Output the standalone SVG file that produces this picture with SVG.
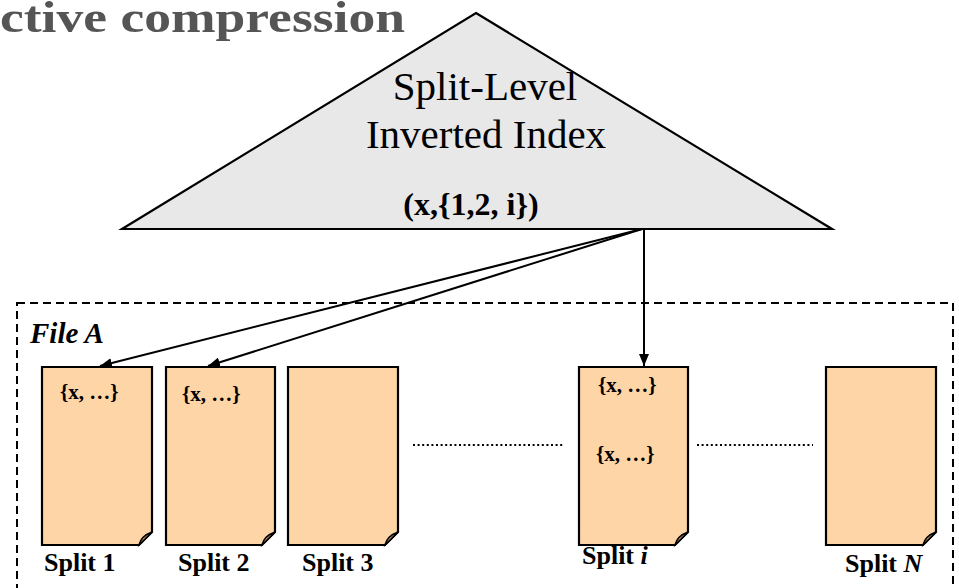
<svg xmlns="http://www.w3.org/2000/svg" width="959" height="588" viewBox="0 0 959 588">
<style>
.doc{fill:#fdd5a6;stroke:#000;stroke-width:2.2;stroke-linejoin:miter}
.fold{fill:#d6a574;stroke:#000;stroke-width:1.5}
.lbl{font-family:"Liberation Serif","Times New Roman",serif;font-weight:bold;font-size:26px;fill:#000}
.cnt{font-family:"Liberation Serif","Times New Roman",serif;font-weight:bold;font-size:21px;fill:#000}
.tri{font-family:"Liberation Serif","Times New Roman",serif;font-size:41px;fill:#000;text-anchor:middle}
.conn{stroke:#000;stroke-width:2;fill:none}
.dots{stroke:#000;stroke-width:2.2;stroke-dasharray:2 2.6;fill:none}
</style>
<defs>
<marker id="ah" viewBox="0 0 12 10" refX="12" refY="5" markerWidth="12" markerHeight="10" markerUnits="userSpaceOnUse" orient="auto">
<path d="M0,0 L12,5 L0,10 Z" fill="#000"/>
</marker>
</defs>
<rect width="959" height="588" fill="#fff"/>
<text x="0" y="32" font-family="'Liberation Serif','Times New Roman',serif" font-weight="bold" font-size="44" fill="#555" textLength="405" lengthAdjust="spacingAndGlyphs">ctive compression</text>

<g id="fileA">
<rect x="17" y="303" width="936" height="320" fill="none" stroke="#000" stroke-width="2" stroke-dasharray="8 5"/>
<text x="30" y="343" font-family="'Liberation Serif','Times New Roman',serif" font-weight="bold" font-style="italic" font-size="29">File A</text>
</g>

<g id="index">
<polygon points="476,13 832,229 122,229" fill="#e8e8e8" stroke="#000" stroke-width="2.2" stroke-linejoin="miter"/>
<text class="tri" x="485" y="100">Split-Level</text>
<text class="tri" x="486" y="148">Inverted Index</text>
<text x="471" y="215" text-anchor="middle" font-family="'Liberation Serif','Times New Roman',serif" font-weight="bold" font-size="32">(x,{1,2, i})</text>
</g>

<g id="split1">
<path class="doc" d="M42,367 H152 V532 L139,545 H42 Z"/>
<path class="fold" d="M152,532 L139,545 Q141,536 152,532 Z"/>
<text class="cnt" x="60" y="399">{x, …}</text>
<text class="lbl" x="44" y="571">Split 1</text>
</g>

<g id="split2">
<path class="doc" d="M166,367 H275 V532 L262,545 H166 Z"/>
<path class="fold" d="M275,532 L262,545 Q264,536 275,532 Z"/>
<text class="cnt" x="182" y="401">{x, …}</text>
<text class="lbl" x="178" y="571">Split 2</text>
</g>

<g id="split3">
<path class="doc" d="M288,367 H398 V532 L385,545 H288 Z"/>
<path class="fold" d="M398,532 L385,545 Q387,536 398,532 Z"/>
<text class="lbl" x="302" y="571">Split 3</text>
</g>

<g id="spliti">
<path class="doc" d="M579,367 H688 V532 L675,545 H579 Z"/>
<path class="fold" d="M688,532 L675,545 Q677,536 688,532 Z"/>
<text class="cnt" x="598" y="392">{x, …}</text>
<text class="cnt" x="596" y="461">{x, …}</text>
<text class="lbl" x="582" y="564">Split <tspan font-style="italic">i</tspan></text>
</g>

<g id="splitN">
<path class="doc" d="M826,367 H936 V532 L923,545 H826 Z"/>
<path class="fold" d="M936,532 L923,545 Q925,536 936,532 Z"/>
<text class="lbl" x="845" y="572">Split <tspan font-style="italic">N</tspan></text>
</g>

<g id="ellipses">
<line class="dots" x1="413" y1="445" x2="563" y2="445"/>
<line class="dots" x1="697" y1="445" x2="813" y2="445"/>
</g>

<g id="connectors">
<line class="conn" x1="642" y1="229" x2="100" y2="366" marker-end="url(#ah)"/>
<line class="conn" x1="642" y1="229" x2="208" y2="366" marker-end="url(#ah)"/>
<line class="conn" x1="644" y1="229" x2="644" y2="366" marker-end="url(#ah)"/>
</g>
</svg>
